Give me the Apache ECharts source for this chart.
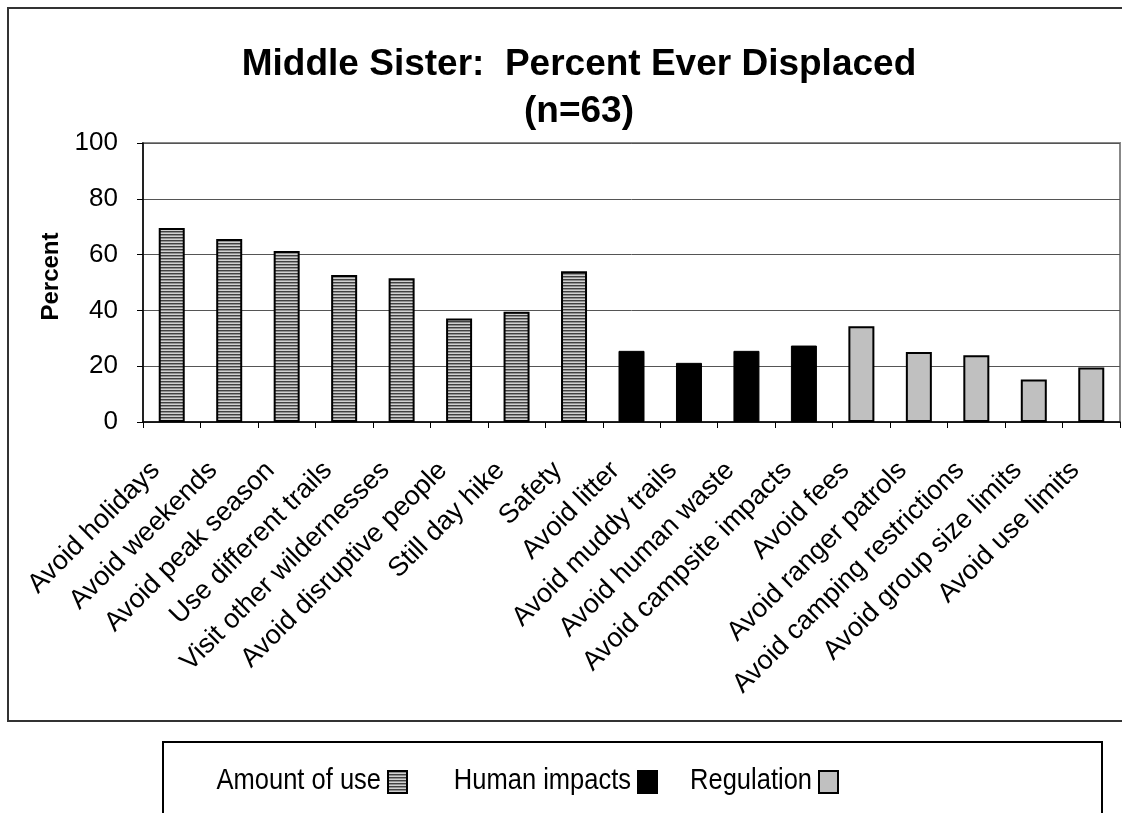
<!DOCTYPE html>
<html>
<head>
<meta charset="utf-8">
<script src="https://cdn.jsdelivr.net/npm/echarts@6/dist/echarts.min.js"></script>
<style>
  html, body { margin: 0; padding: 0; background: #fff; }
  #chart { width: 1122px; height: 813px; }
</style>
</head>
<body>
<div id="chart"></div>
<script>
// Reasons for displacement and share of respondents (%)
const categories = [
  'Avoid holidays', 'Avoid weekends', 'Avoid peak season', 'Use different trails',
  'Visit other wildernesses', 'Avoid disruptive people', 'Still day hike', 'Safety',
  'Avoid litter', 'Avoid muddy trails', 'Avoid human waste', 'Avoid campsite impacts',
  'Avoid fees', 'Avoid ranger patrols', 'Avoid camping restrictions',
  'Avoid group size limits', 'Avoid use limits'
];
const amountOfUse = [69.5, 65.6, 61.3, 52.7, 51.5, 37.1, 39.5, 54.0];
const humanImpacts = [25.5, 21.2, 25.5, 27.4];
const regulation = [34.3, 25.1, 23.9, 15.2, 19.5];
const groupNames = ['Amount of use', 'Human impacts', 'Regulation'];
const yTicks = [0, 20, 40, 60, 80, 100];

// Place each group's values at its own categories, blanks elsewhere
function placed(values, offset) {
  return categories.map((_, i) =>
    (i >= offset && i < offset + values.length) ? values[i - offset] : '-');
}

// Horizontal stripe fill for the "Amount of use" bars
const stripe = document.createElement('canvas');
stripe.width = 4; stripe.height = 3;
const sctx = stripe.getContext('2d');
sctx.fillStyle = '#404040'; sctx.fillRect(0, 0, 4, 1);
sctx.fillStyle = '#909090'; sctx.fillRect(0, 1, 4, 1);
sctx.fillStyle = '#d0d0d0'; sctx.fillRect(0, 2, 4, 1);

const FONT = "'Liberation Sans', Arial, sans-serif";
const chart = echarts.init(document.getElementById('chart'), null, { renderer: 'canvas' });

// Legend: swatch x positions; the name sits just left of each swatch
const swatchLeft = [387, 637, 818];
const fills = [
  { color: { image: stripe, repeat: 'repeat' }, borderColor: '#000', borderWidth: 2 },
  { color: '#000', borderColor: '#000', borderWidth: 1 },
  { color: '#c0c0c0', borderColor: '#000', borderWidth: 2 }
];

const legendTexts = groupNames.map((name, i) => ({
  type: 'text',
  x: swatchLeft[i] - 6,
  y: 781,
  scaleX: 0.85,
  style: {
    text: name, x: 0, y: 0,
    fontFamily: FONT, fontSize: 30, fill: '#000',
    align: 'right', verticalAlign: 'middle'
  },
  z: 10
}));

chart.setOption({
  animation: false,
  backgroundColor: '#fff',
  title: {
    text: 'Middle Sister:  Percent Ever Displaced\n(n=63)',
    left: 574,
    top: 36,
    textAlign: 'center',
    textStyle: { fontFamily: FONT, fontSize: 37, fontWeight: 'bold', color: '#000', lineHeight: 47 }
  },
  graphic: [
    { type: 'rect', shape: { x: 8, y: 8, width: 1130, height: 713 },
      style: { fill: null, stroke: '#333', lineWidth: 2 }, z: -1 },
    { type: 'rect', shape: { x: 163, y: 742, width: 939, height: 100 },
      style: { fill: '#fff', stroke: '#000', lineWidth: 2 }, z: -1 }
  ].concat(legendTexts),
  legend: groupNames.map((name, i) => ({
    data: [name],
    left: swatchLeft[i],
    top: 770,
    padding: 0,
    icon: 'rect',
    itemWidth: 19,
    itemHeight: 22,
    formatter: () => '',
    textStyle: { fontFamily: FONT, fontSize: 2, color: '#000' }
  })),
  grid: {
    left: 143, right: 2, top: 143, bottom: 391,
    show: true, borderColor: '#888', borderWidth: 2
  },
  xAxis: {
    type: 'category',
    data: categories,
    axisLine: { lineStyle: { color: '#000', width: 1.5 } },
    axisTick: { show: true, length: 6, lineStyle: { color: '#000' } },
    axisLabel: {
      rotate: 45, interval: 0, margin: 28, padding: [0, 23, 0, 0],
      fontFamily: FONT, fontSize: 27, color: '#000'
    }
  },
  yAxis: {
    type: 'value',
    min: yTicks[0], max: yTicks[yTicks.length - 1], interval: 20,
    name: 'Percent',
    nameLocation: 'middle',
    nameGap: 78,
    nameTextStyle: { fontFamily: FONT, fontSize: 24, fontWeight: 'bold', color: '#000', padding: [0, 0, 0, 12] },
    axisLine: { show: true, lineStyle: { color: '#000', width: 1.5 } },
    axisTick: { show: true, length: 6, lineStyle: { color: '#000' } },
    axisLabel: { fontFamily: FONT, fontSize: 26, color: '#000', margin: 25 },
    splitLine: { lineStyle: { color: '#555', width: 1 } }
  },
  series: [
    { name: groupNames[0], type: 'bar', barWidth: 26, barGap: '-100%',
      data: placed(amountOfUse, 0), itemStyle: fills[0] },
    { name: groupNames[1], type: 'bar', barWidth: 26, barGap: '-100%',
      data: placed(humanImpacts, 8), itemStyle: fills[1] },
    { name: groupNames[2], type: 'bar', barWidth: 26, barGap: '-100%',
      data: placed(regulation, 12), itemStyle: fills[2] }
  ]
});
</script>
</body>
</html>
